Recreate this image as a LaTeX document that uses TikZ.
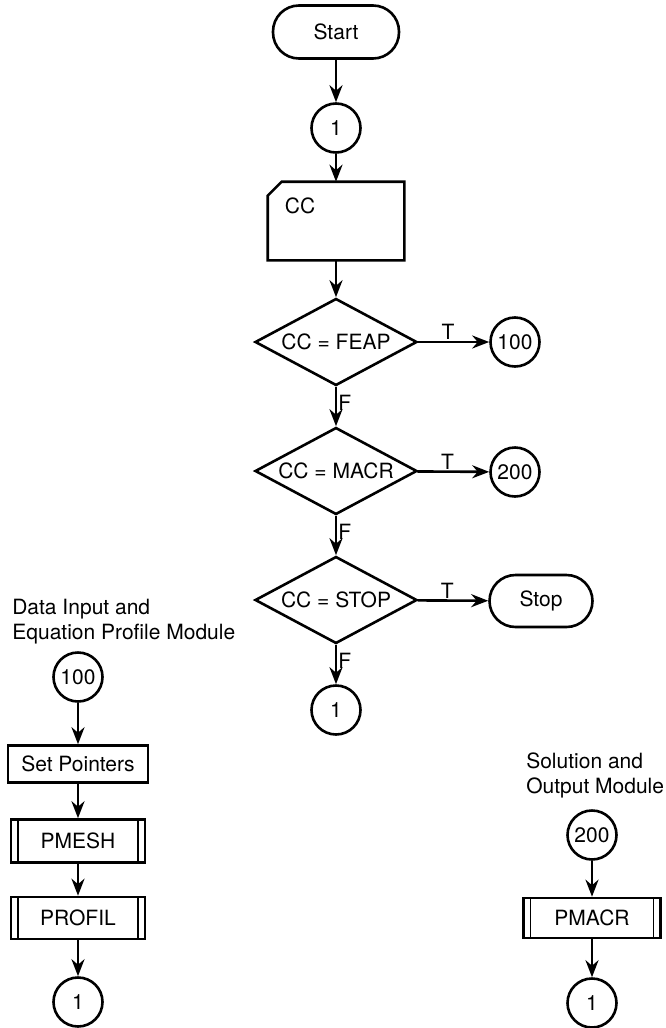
\documentclass[tikz,border=0pt]{standalone}
\usepackage{fontspec}
\setmainfont{TeX Gyre Heros}
\usetikzlibrary{shapes.geometric,arrows.meta}
\begin{document}
\begin{tikzpicture}
  [x=1pt,y=-1pt,line width=2.6pt,
   every node/.style={draw=black,line width=2.6pt,font=\fontsize{21}{25}\selectfont,inner sep=2pt},
   term/.style={rectangle,rounded corners=26pt,minimum height=53pt},
   conn/.style={circle,minimum size=49pt,inner sep=0pt},
   test/.style={diamond,aspect=1.86,minimum width=162pt,minimum height=87pt,inner sep=0pt},
   proc/.style={rectangle,minimum width=140pt,minimum height=37pt},
   subr/.style={rectangle,minimum width=134pt,minimum height=42pt,
     path picture={\draw[line width=1.2pt]
       ([xshift=7pt]path picture bounding box.north west) -- ([xshift=7pt]path picture bounding box.south west)
       ([xshift=-7pt]path picture bounding box.north east) -- ([xshift=-7pt]path picture bounding box.south east);}},
   lab/.style={draw=none,inner sep=1pt},
   note/.style={draw=none,align=left,anchor=west,inner sep=0pt},
   flow/.style={-{Stealth[length=17pt,width=13pt]}}]
  \useasboundingbox (0,0) rectangle (665,1028);

  % main loop
  \node (start) at (336,32) [term,minimum width=126pt] {Start};
  \node (c1) at (336,128) [conn] {1};
  \node (cc) at (336,221) [draw=none,rectangle,minimum width=134pt,minimum height=76pt] {};
  \draw ([yshift=-14pt]cc.north west) -- ([xshift=14pt]cc.north west) -- (cc.north east)
    -- (cc.south east) -- (cc.south west) -- cycle;
  \node (cctext) at (300,206) [draw=none,inner sep=0pt] {CC};
  \node (d1) at (336,342) [test] {CC = FEAP};
  \node (d2) at (336,471) [test] {CC = MACR};
  \node (d3) at (336,600) [test] {CC = STOP};
  \node (c1b) at (336,710) [conn] {1};
  \node (c100) at (515,342) [conn] {100};
  \node (c200) at (515,472) [conn] {200};
  \node (stop) at (541,601) [term,minimum width=103pt,minimum height=52pt] {Stop};

  % data input module
  \node (inmod) at (11,621.5) [note] {Data Input and\\Equation Profile Module};
  \node (c100l) at (78,677) [conn] {100};
  \node (setp) at (78,764) [proc] {Set Pointers};
  \node (pmesh) at (78,841) [subr,minimum height=43pt] {PMESH};
  \node (profil) at (78,918) [subr] {PROFIL};
  \node (c1l) at (78,1002) [conn] {1};

  % solution module
  \node (outmod) at (525,775.5) [note] {Solution and\\Output Module};
  \node (c200r) at (592,835) [conn] {200};
  \node (pmacr) at (592,918) [subr,minimum width=137pt,minimum height=40pt] {PMACR};
  \node (c1r) at (592,1003) [conn] {1};

  \foreach \from/\to in {start/c1, c1/cc, cc/d1, c100l/setp, setp/pmesh, pmesh/profil,
                         profil/c1l, c200r/pmacr, pmacr/c1r}
    \draw[flow] (\from) -- (\to);

  \foreach \from/\to/\name in {d1/c100/t1, d2/c200/t2, d3/stop/t3}
    \draw[flow] (\from) -- node[lab,above,pos=0.42] (\name) {T} (\to);

  \foreach \from/\to/\name in {d1/d2/f1, d2/d3/f2, d3/c1b/f3}
    \draw[flow] (\from) -- node[lab,right,pos=0.4] (\name) {F} (\to);
\end{tikzpicture}
\end{document}
